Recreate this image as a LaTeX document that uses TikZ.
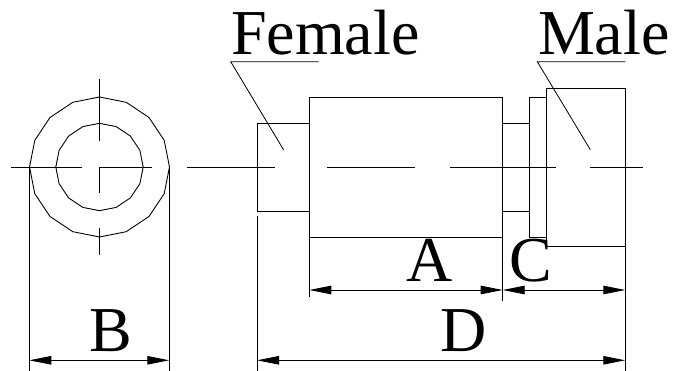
\documentclass[tikz,border=0pt]{standalone}
\usepackage{fontspec}
\setmainfont{Liberation Serif}
\usetikzlibrary{arrows.meta}
\tikzset{
  part/.style={draw=black,line width=0.9pt,fill=none},
  axisline/.style={draw=black,line width=0.9pt},
  leader/.style={draw=black,line width=0.8pt},
  dim/.style={draw=black,line width=0.9pt,{Triangle[length=22pt,width=8.5pt]}-{Triangle[length=22pt,width=8.5pt]}},
  lab/.style={inner sep=0pt,outer sep=0pt,anchor=base west,font=\fontsize{64}{64}\selectfont}
}
\begin{document}
\begin{tikzpicture}[x=1pt,y=-1pt]
\useasboundingbox (0,0) rectangle (674,371);
% end view
\draw[part] plot[samples=17,domain=0:360] ({99.5+70*cos(\x)},{167+70*sin(\x)}) -- cycle;
\draw[part] plot[samples=17,domain=0:360] ({99.5+43.7*cos(\x)},{167+43.7*sin(\x)}) -- cycle;
% side view
\draw[part] (309.3,123.3) -- (257,123.3) -- (257,211) -- (309.3,211);
\draw[part] (309.3,97) rectangle (502.7,237.3);
\draw[part] (502.7,123.3) -- (529,123.3) -- (529,211) -- (502.7,211);
\draw[part] (529,97) rectangle (546.3,237.3);
\draw[part] (546.3,88) rectangle (625.3,246);
% centre lines
\draw[axisline] (11.3,167) -- (81.7,167) (99.3,167) -- (152,167)
  (186.7,167) -- (274.7,167) (327,167) -- (415,167) (450,167) -- (555.7,167) (590,167) -- (643,167);
\draw[axisline] (99.3,79.3) -- (99.3,140.7) (99.3,167) -- (99.3,193.3) (99.3,228.3) -- (99.3,255);
% extension lines
\draw[axisline] (29.3,167) -- (29.3,371) (169.3,167) -- (169.3,371)
  (257,216) -- (257,371) (309.3,237) -- (309.3,297) (502.7,211) -- (502.7,301) (625.3,246) -- (625.3,371);
% labels
\node[lab] (female) at (231,54.3) {Female};
\node[lab] (male) at (538,54.3) {Male};
\node[lab] (la) at (406.5,281.7) {A};
\node[lab] (lc) at (509.5,281.7) {C};
\node[lab] (lb) at (89,351.7) {B};
\node[lab] (ld) at (440.5,351.7) {D};
% leaders
\coordinate (f0) at (230.7,61.7); \coordinate (f1) at (318.7,61.7); \coordinate (f2) at (283.7,150);
\coordinate (m0) at (537.3,61.7); \coordinate (m1) at (625.3,61.7); \coordinate (m2) at (590.3,149.7);
\draw[leader] (f1) -- (f0) -- (f2);
\draw[leader] (m1) -- (m0) -- (m2);
% dimensions
\coordinate (a0) at (309.3,290); \coordinate (a1) at (502.7,290); \coordinate (c1) at (625.3,290);
\coordinate (b0) at (29.3,360.3); \coordinate (b1) at (169.3,360.3);
\coordinate (d0) at (257,360.3); \coordinate (d1) at (625.3,360.3);
\draw[dim] (a0) -- (a1);
\draw[dim] (a1) -- (c1);
\draw[dim] (b0) -- (b1);
\draw[dim] (d0) -- (d1);
\end{tikzpicture}
\end{document}
